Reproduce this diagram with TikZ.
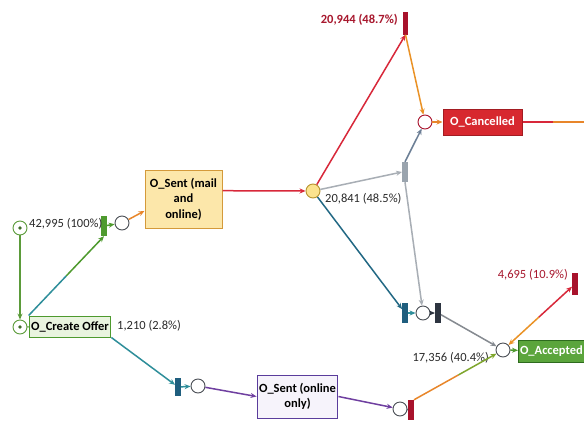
\documentclass[tikz,border=0pt]{standalone}
\usepackage{fontspec}
\setmainfont{Carlito}
\usetikzlibrary{arrows.meta,calc}

\definecolor{pgreen}{HTML}{5B9B3A}
\definecolor{cgreen}{HTML}{4E9A2E}
\definecolor{cgreenl}{HTML}{E9F4DF}
\definecolor{sentb}{HTML}{D49A3A}
\definecolor{sentf}{HTML}{FCE7AA}
\definecolor{splitf}{HTML}{FBE38E}
\definecolor{splitb}{HTML}{B89530}
\definecolor{dred}{HTML}{A8122C}
\definecolor{lred}{HTML}{A8182E}
\definecolor{cancf}{HTML}{D7282F}
\definecolor{cancb}{HTML}{A31C22}
\definecolor{gbar}{HTML}{9AA4AE}
\definecolor{bbar}{HTML}{1F5E7E}
\definecolor{dbar}{HTML}{2D3440}
\definecolor{accf}{HTML}{5BA53C}
\definecolor{accb}{HTML}{2E6B1E}
\definecolor{onlb}{HTML}{5A3C9C}
\definecolor{onlf}{HTML}{F6F3FB}
\definecolor{lteal}{HTML}{2E8E9A}
\definecolor{lorange}{HTML}{E8862A}
\definecolor{lred2}{HTML}{D8283A}
\definecolor{lgray}{HTML}{A8AEB5}
\definecolor{lslate}{HTML}{6C7F96}
\definecolor{lpurple}{HTML}{6F3FA0}
\definecolor{lolive}{HTML}{7FA62E}
\definecolor{tgray}{HTML}{2A2A2A}
\definecolor{pbord}{HTML}{4A4F55}

\begin{document}
\begin{tikzpicture}[x=1pt,y=-1pt, % pixel units, y pointing down
  place/.style={circle,draw=pbord,fill=white,minimum size=14pt,inner sep=0pt,line width=0.9pt},
  bar/.style={rectangle,inner sep=0pt,minimum width=5.5pt,minimum height=20pt},
  act/.style={rectangle,draw,line width=1pt,font=\bfseries\fontsize{12.5}{15.5}\selectfont,align=center,inner sep=2pt},
  arc/.style={-{Stealth[length=6pt,width=5pt]},line width=1.5pt},
  flow/.style={line width=1.5pt},
  lbl/.style={font=\fontsize{12.5}{14}\selectfont,text=tgray,inner sep=0pt}]
\clip (0,0) rectangle (584,421); % page 584 x 421
\fill[white] (0,0) rectangle (584,421);

% places and transitions
\node[place,draw=pgreen] (pStart) at (20,228) {};
\fill[pgreen!70!black] (pStart) circle (1.8);
\node[place,draw=pgreen] (pInit) at (20,327) {};
\fill[pgreen!70!black] (pInit) circle (1.8);
\node[act,draw=cgreen,fill=cgreenl,minimum width=76pt,minimum height=21pt] (create) at (70,326.5) {O\_Create Offer};
\node[bar,fill=cgreen] (tSend) at (104,226) {};
\node[place] (pSend) at (122,223) {};
\node[act,draw=sentb,fill=sentf,minimum width=77pt,minimum height=58pt] (sentMO) at (183.5,199) {O\_Sent (mail\\and\\online)};
\node[place,draw=splitb,fill=splitf] (pSplit) at (313,191) {};
\node[bar,fill=dred,minimum height=23pt] (tCancel) at (405.5,23) {};
\node[place,draw=dred] (pCancel) at (425,122) {};
\node[act,draw=cancb,fill=cancf,text=white,minimum width=79pt,minimum height=26pt] (cancel) at (482.5,122) {O\_Cancelled};
\coordinate (cancelOut) at (584,122);
\node[bar,fill=gbar] (tGray) at (405,172) {};
\node[bar,fill=bbar] (tBlue) at (405,313) {};
\node[place] (pJoin) at (423,313) {};
\node[bar,fill=dbar] (tDark) at (438,313) {};
\node[place] (pAcc) at (503,350) {};
\node[act,draw=accb,fill=accf,text=white,minimum height=22pt,inner sep=1.5pt,anchor=west] (accept) at (518,351) {O\_Accepted};
\node[bar,fill=dred,minimum height=22pt] (tRet) at (575,284) {};
\node[bar,fill=bbar,minimum height=18pt] (tTeal) at (178,387) {};
\node[place] (pOnl) at (198,386) {};
\node[act,draw=onlb,fill=onlf,minimum width=69pt,minimum height=43pt] (sentOn) at (297.5,396.5) {O\_Sent (online\\only)};
\node[place] (pMerge) at (400,409) {};
\node[bar,fill=dred] (tRed) at (411,410) {};

% counts
\node[lbl,anchor=west] (l42995) at (29,224) {42,995 (100\%)};
\node[lbl,anchor=west] (l1210) at (117,326) {1,210 (2.8\%)};
\node[lbl,anchor=east,text=lred,font=\bfseries\fontsize{12.5}{14}\selectfont] (l20944) at (398,20) {20,944 (48.7\%)};
\node[lbl,anchor=west] (l20841) at (325,199) {20,841 (48.5\%)};
\node[lbl,anchor=east] (l17356) at (489,358) {17,356 (40.4\%)};
\node[lbl,anchor=east,text=lred] (l4695) at (568,275) {4,695 (10.9\%)};

% arcs
\draw[arc,pgreen] (pStart) -- (pInit);
\draw[flow,pgreen] (pInit) -- (create);
\draw[flow,lteal] (create.north west) -- ($(create.north west)!0.5!(tSend.south)$);
\draw[arc,cgreen] ($(create.north west)!0.5!(tSend.south)$) -- (tSend.south);
\draw[arc,cgreen] (tSend) -- (pSend);
\draw[arc,lorange] (pSend) -- (sentMO.197);
\draw[arc,lred2] (sentMO.12) -- (pSplit);
\draw[arc,lred2] (pSplit) -- (tCancel.south);
\draw[arc,lorange!90!yellow] (tCancel.south) -- (pCancel);
\draw[arc,lgray] (pSplit) -- (tGray.west);
\draw[arc,lslate] (tGray.north) -- (pCancel);
\draw[arc,lgray] (tGray.south) -- (pJoin);
\draw[arc,lorange] (pCancel) -- (cancel.west);
\draw[flow,lred2] (cancel.east) -- ($(cancel.east)!0.5!(cancelOut)$);
\draw[flow,lorange] ($(cancel.east)!0.5!(cancelOut)$) -- (cancelOut);
\draw[arc,bbar!80!lteal] (pSplit) -- (tBlue);
\draw[arc,lteal] (tBlue) -- (pJoin);
\draw[arc,dbar] (pJoin) -- (tDark);
\draw[arc,lgray!80!black] (tDark) -- (pAcc);
\draw[arc,cgreen] (pAcc) -- (accept);
\draw[arc,lteal] (create.south east) -- (tTeal);
\draw[arc,lteal] (tTeal) -- (pOnl);
\draw[arc,lpurple] (pOnl) -- (sentOn.west);
\draw[arc,lpurple] (sentOn.east) -- (pMerge);
\draw[flow,dbar] (pMerge) -- (tRed);
\draw[flow,lorange] (tRed.north east) -- ($(tRed.north east)!0.5!(pAcc)$);
\draw[arc,lolive] ($(tRed.north east)!0.5!(pAcc)$) -- (pAcc);
\draw[{Stealth[length=6pt,width=5pt]}-,flow,lorange!90!yellow] (pAcc) -- ($(pAcc)!0.5!(tRet)$);
\draw[arc,lred2] ($(pAcc)!0.5!(tRet)$) -- (tRet);
\end{tikzpicture}
\end{document}
